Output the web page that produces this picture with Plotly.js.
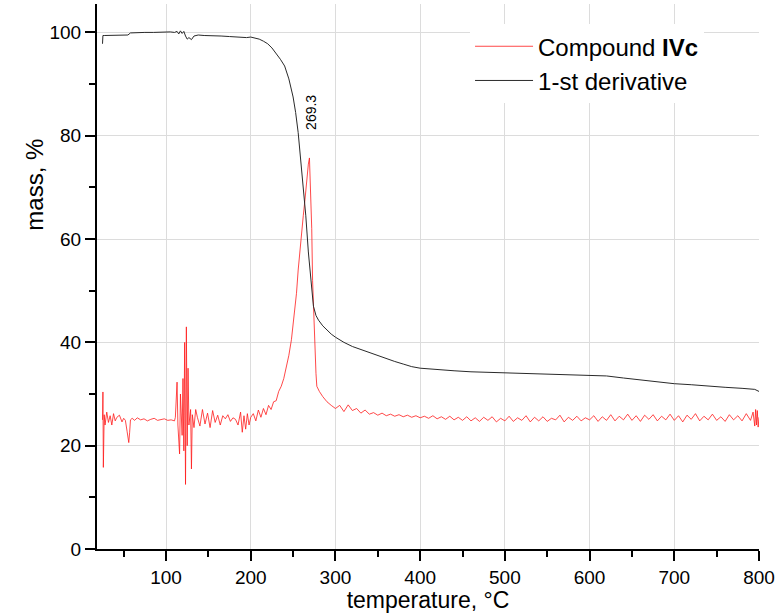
<!DOCTYPE html>
<html>
<head>
<meta charset="utf-8">
<script src="https://cdn.plot.ly/plotly-3.0.1.min.js"></script>
<style>html,body{margin:0;padding:0;background:#fff;}#chart{width:778px;height:613px;}</style>
</head>
<body>
<div id="chart"></div>
<script>
// ---- data: mass curve (black) ----
const tempMass = [25, 25.5, 27, 35, 45, 55, 58, 65, 75, 85, 95, 105, 110, 113, 115, 117, 119, 121, 123, 125, 127, 130, 133, 138, 145, 155, 165, 175, 185, 195, 200, 205, 210, 215, 220, 225, 230, 235, 240, 245, 250, 253, 256, 259, 262, 265, 268, 271, 274, 277, 280, 285, 290, 295, 300, 310, 320, 330, 340, 350, 360, 370, 380, 390, 400, 420, 440, 460, 480, 500, 520, 540, 560, 580, 600, 620, 640, 660, 680, 700, 720, 740, 760, 780, 790, 795, 800];
const massVals = [97.8, 99.4, 99.4, 99.4, 99.4, 99.5, 99.9, 100.0, 100.0, 100.0, 100.1, 100.1, 100.0, 100.2, 99.7, 100.3, 99.8, 100.2, 99.3, 98.7, 99.0, 98.6, 99.3, 99.5, 99.4, 99.4, 99.3, 99.2, 99.1, 99.0, 99.1, 98.9, 98.7, 98.3, 97.8, 97.0, 96.0, 94.8, 93.5, 91.0, 87.5, 84.5, 80.6, 75.5, 70.0, 64.5, 57.5, 52.0, 47.0, 45.2, 44.3, 43.2, 42.3, 41.6, 41.0, 40.0, 39.2, 38.6, 38.0, 37.4, 36.8, 36.3, 35.8, 35.3, 35.0, 34.7, 34.5, 34.3, 34.2, 34.1, 34.1, 34.0, 33.9, 33.8, 33.6, 33.5, 33.1, 32.7, 32.3, 32.0, 31.8, 31.5, 31.3, 31.1, 31.0, 30.9, 30.5];

// ---- data: derivative curve (red) ----
const tempDeriv = [25, 25.5, 26, 27, 28, 30, 32, 34, 36, 38, 40, 42, 45, 48, 50, 52, 54, 56, 57, 58, 60, 63, 66, 70, 74, 78, 82, 86, 90, 94, 98, 102, 106, 110,
  111, 113, 114, 116, 117, 119, 120, 121, 122, 123, 124, 125, 126, 127, 129, 130, 131, 133, 135,
  137, 140, 143, 146, 149, 152, 155, 158, 161, 164, 167, 170, 173, 176, 179, 182, 185, 188, 190, 192, 194, 196, 198, 200,
  203, 206, 209, 212, 215, 218, 221, 224, 227, 230, 233, 236, 239, 242, 245, 248, 250, 252, 254, 256, 258, 260, 262, 264, 266, 268, 269.3, 270, 271, 272, 273, 274, 275, 276, 277, 278, 281, 285, 290, 295, 300,
  305, 310, 315, 320, 325, 330, 335, 340, 345, 350, 355, 360, 365, 370, 375, 380, 385, 390, 395, 400, 405, 410, 415, 420, 425, 430, 435, 440, 445, 450, 455, 460, 465, 470, 475, 480, 485, 490, 495, 500,
  505, 510, 515, 520, 525, 530, 535, 540, 545, 550, 555, 560, 565, 570, 575, 580, 585, 590, 595, 600, 605, 610, 615, 620, 625, 630, 635, 640, 645, 650, 655, 660, 665, 670, 675, 680, 685, 690, 695, 700,
  705, 710, 715, 720, 725, 730, 735, 740, 745, 750, 755, 760, 765, 770, 775, 780, 785, 790, 793, 795, 796, 797, 798, 799, 800];
const derivVals = [25.0, 30.4, 15.8, 26.0, 24.0, 26.5, 24.5, 25.8, 24.0, 26.2, 24.8, 25.5, 25.9, 24.6, 25.3, 24.9, 22.8, 20.6, 22.5, 25.0, 25.3, 24.9, 25.4, 25.0, 25.2, 24.8, 25.1, 25.3, 24.9, 25.1, 25.2, 24.9, 25.0, 24.8,
  25.5, 32.3, 24.0, 18.4, 30.0, 22.0, 33.0, 19.0, 40.0, 12.5, 43.0, 20.0, 35.0, 24.0, 27.0, 15.5, 26.0, 23.5, 27.0,
  25.5, 23.8, 27.0, 24.2, 26.3, 23.5, 26.8, 24.5, 25.9, 24.0, 25.8, 25.2, 26.0, 24.7, 25.4, 25.1, 24.0, 26.5, 22.6, 25.8, 23.2, 26.2, 24.0, 25.5,
  26.2, 24.8, 26.9, 25.5, 27.2, 26.0, 27.8, 27.0, 28.5, 28.7, 30.5, 31.5, 33.0, 35.0, 37.5, 40.5, 43.5, 47.0, 49.5, 54.0, 57.9, 60.5, 64.5, 67.6, 71.5, 74.5, 75.7, 73.0, 68.0, 62.0, 52.0, 47.0, 41.0, 37.0, 34.0, 31.5, 30.5, 29.5, 28.5, 27.8, 27.2,
  27.8, 26.6, 27.9, 26.8, 27.2, 26.3, 26.9, 26.1, 26.4, 25.9, 26.3, 25.8, 26.1, 25.7, 26.0, 25.6, 25.9, 25.5, 25.8, 25.4, 25.7, 25.3, 25.8, 25.2, 25.6, 25.1, 25.7, 25.0, 25.5, 24.9, 25.6, 24.8, 25.4, 24.7, 25.5, 24.9, 25.6, 24.6, 25.3, 24.8,
  25.7, 24.7, 25.4, 24.9, 25.8, 24.6, 25.5, 24.8, 25.6, 24.7, 25.3, 25.0, 25.9, 24.6, 25.5, 24.9, 25.7, 24.8, 25.4, 25.0, 25.8, 24.7, 25.6, 24.9, 26.0, 24.8, 25.7, 25.0, 26.1, 24.9, 25.8, 24.7, 25.9, 25.1, 26.0, 24.8, 25.7, 25.0, 26.1, 24.9,
  25.8, 24.6, 25.9, 25.1, 26.2, 24.8, 25.7, 25.0, 26.1, 24.9, 25.6, 24.7, 26.0, 25.0, 25.8, 24.8, 26.2, 24.9, 26.5, 23.8, 27.0, 24.0, 26.8, 23.6, 25.5];

// ---- labels ----
const seriesNames = ['Compound <b>IVc</b>', '1-st derivative'];
const xTitle = 'temperature, °C';
const yTitle = 'mass, %';

const FONT = 'Arial, "Liberation Sans", sans-serif';

// peak label from data
let pk = 0;
for (let i = 1; i < derivVals.length; i++) if (derivVals[i] > derivVals[pk]) pk = i;

const traces = [
  {x: tempDeriv, y: derivVals, type: 'scatter', mode: 'lines', name: seriesNames[0],
   line: {color: '#ff1a1a', width: 0.8}},
  {x: tempMass, y: massVals, type: 'scatter', mode: 'lines', name: seriesNames[1],
   line: {color: '#2a2a2a', width: 1}}
];

const axisCommon = {
  showline: true, linecolor: '#000', linewidth: 2,
  ticks: 'outside', ticklen: 10, tickwidth: 2, tickcolor: '#000',
  showgrid: true, gridcolor: '#dcdcdc', gridwidth: 1, zeroline: false,
  tickfont: {family: FONT, size: 19, color: '#000'}
};

const layout = {
  width: 778, height: 613,
  margin: {l: 97, r: 19, t: 4, b: 64},
  paper_bgcolor: '#fff', plot_bgcolor: '#fff',
  showlegend: true,
  legend: {x: 0.5635, y: 0.963, xanchor: 'left', yanchor: 'top', bgcolor: '#fff',
           font: {family: FONT, size: 24, color: '#000'}, itemwidth: 58},
  xaxis: Object.assign({}, axisCommon, {
    range: [18.5, 800], tick0: 0, dtick: 100,
    minor: {tick0: 0, dtick: 50, ticks: 'outside', ticklen: 6, tickwidth: 2, tickcolor: '#000', showgrid: false},
    title: {text: xTitle, font: {family: FONT, size: 23, color: '#000'}, standoff: 5}
  }),
  yaxis: Object.assign({}, axisCommon, {
    range: [0, 105.5], tick0: 0, dtick: 20,
    minor: {tick0: 0, dtick: 10, ticks: 'outside', ticklen: 6, tickwidth: 2, tickcolor: '#000', showgrid: false}
  }),
  annotations: [
    {xref: 'paper', yref: 'paper', x: -0.094, y: 0.668, xanchor: 'center', yanchor: 'middle',
     text: yTitle, textangle: -90, showarrow: false, font: {family: FONT, size: 24, color: '#000'}},
    {xref: 'x', yref: 'y', x: tempDeriv[pk], y: derivVals[pk], text: String(tempDeriv[pk]),
     textangle: -90, showarrow: false, yanchor: 'bottom', yshift: 26, xshift: 2,
     font: {family: FONT, size: 14, color: '#000'}}
  ]
};

Plotly.newPlot('chart', traces, layout, {displayModeBar: false, staticPlot: true});
</script>
</body>
</html>
